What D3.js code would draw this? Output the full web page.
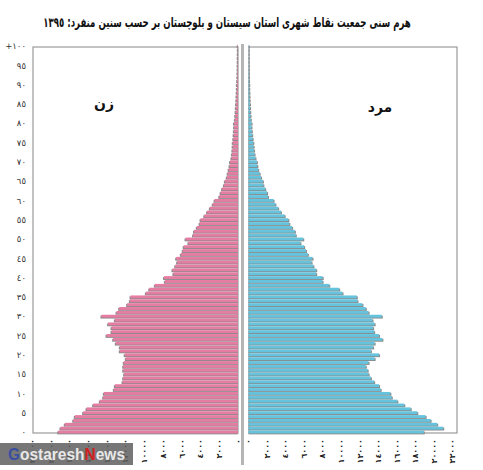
<!DOCTYPE html>
<html><head><meta charset="utf-8">
<script src="https://cdn.jsdelivr.net/npm/d3@7"></script>
<style>body{margin:0;background:#fff;} svg{display:block;}</style>
</head><body>
<script>
const ages = d3.range(0, 101);
const ageTickLabels = ["٠","٥","١٠","١٥","٢٠","٢٥","٣٠","٣٥","٤٠","٤٥","٥٠","٥٥","٦٠","٦٥","٧٠","٧٥","٨٠","٨٥","٩٠","٩٥","+١٠٠"];
const popTicks = [0,2000,4000,6000,8000,10000,12000,14000,16000,18000,20000,22000];
const popTickLabels = ["٠","٢٠٠٠","٤٠٠٠","٦٠٠٠","٨٠٠٠","١٠٠٠٠","١٢٠٠٠","١٤٠٠٠","١٦٠٠٠","١٨٠٠٠","٢٠٠٠٠","٢٢٠٠٠"];
const women = [19200,18960,18500,17600,17430,16540,16180,15470,14760,14400,
  14330,13260,13150,12330,12260,12160,12260,12260,12200,11980,
  12100,12620,12620,13050,13330,14040,13510,13510,13870,13150,
  14580,12970,12690,11840,11550,11480,9840,9480,8880,7810,
  7900,6900,7000,6700,6500,6600,6100,5900,5800,5300,
  5600,4800,4700,4400,4100,4000,3600,3300,3000,2700,
  2500,2000,1850,1700,1500,1400,1200,1100,1000,900,
  850,700,650,600,570,560,500,470,440,420,
  430,330,300,260,230,210,180,160,140,120,
  120,90,70,60,50,45,35,30,25,20,40];
const men = [18900,21000,20350,19640,19100,18200,17500,16800,16050,15450,
  15300,14250,14080,13550,13200,12950,12850,12650,12950,13600,
  14080,13200,13440,13600,14440,14080,13550,13440,13600,13370,
  14370,12950,12650,12290,11750,11680,10140,9780,8710,7990,
  8000,7300,7300,7000,6800,6900,6400,6200,6000,5600,
  5900,5100,5000,4700,4400,4300,3900,3500,3200,2900,
  2700,2100,2000,1800,1600,1550,1350,1200,1050,950,
  900,750,650,600,550,520,450,400,360,320,
  330,250,220,190,170,160,130,110,100,80,
  80,60,50,40,30,30,20,20,15,10,30];
const titleText = "هرم سنی جمعیت نقاط شهری استان سیستان و بلوچستان بر حسب سنین منفرد: ١٣٩٥";
const womenLabel = "زن";
const menLabel = "مرد";

const W = 483, H = 470;
const svg = d3.select("body").append("svg").attr("width", W).attr("height", H);
const font = "DejaVu Sans, sans-serif";

const y = d3.scaleLinear().domain([0, 100]).range([432, 46]);
const xL = d3.scaleLinear().domain([0, 22000]).range([238, 32]);
const xR = d3.scaleLinear().domain([0, 22000]).range([248.5, 452.5]);
const barH = 2.9;

// title (scaled horizontally to the reference width)
const tg = svg.append("g");
const title = tg.append("text").attr("x", 0).attr("y", 0).attr("text-anchor", "middle")
  .attr("font-family", font).attr("font-weight", "bold").attr("font-size", 13.5)
  .attr("fill", "#111").attr("direction", "rtl").text(titleText);
const tw = title.node().getComputedTextLength();
tg.attr("transform", `translate(227,27) scale(${Math.min(1, 368 / tw)},1)`);

// panel frames
svg.append("rect").attr("x", 33).attr("y", 47).attr("width", 205).attr("height", 386)
  .attr("fill", "none").attr("stroke", "#9a9a9a").attr("stroke-width", 1.2);
svg.append("rect").attr("x", 249).attr("y", 47).attr("width", 208).attr("height", 386)
  .attr("fill", "none").attr("stroke", "#9a9a9a").attr("stroke-width", 1.2);
svg.append("line").attr("x1", 242.5).attr("x2", 242.5).attr("y1", 44).attr("y2", 465)
  .attr("stroke", "#b5b5b5").attr("stroke-width", 3);

// women bars
const gW = svg.append("g");
gW.selectAll("rect.sh").data(ages).join("rect").attr("class", "sh")
  .attr("x", d => xL(women[d]) - 1).attr("y", d => y(d) - barH / 2 + 0.9)
  .attr("width", d => xL(0) - xL(women[d]) + 1).attr("height", barH)
  .attr("fill", "#8a8a8a");
gW.selectAll("rect.b").data(ages).join("rect").attr("class", "b")
  .attr("x", d => xL(women[d])).attr("y", d => y(d) - barH / 2)
  .attr("width", d => xL(0) - xL(women[d])).attr("height", barH)
  .attr("fill", "#e57ca2");

// men bars
const gM = svg.append("g");
gM.selectAll("rect.sh").data(ages).join("rect").attr("class", "sh")
  .attr("x", xR(0)).attr("y", d => y(d) - barH / 2 + 0.9)
  .attr("width", d => xR(men[d]) - xR(0) + 1).attr("height", barH)
  .attr("fill", "#8a8a8a");
gM.selectAll("rect.b").data(ages).join("rect").attr("class", "b")
  .attr("x", xR(0)).attr("y", d => y(d) - barH / 2)
  .attr("width", d => xR(men[d]) - xR(0)).attr("height", barH)
  .attr("fill", "#66c3dd");

// y axis labels
const yAxis = d3.axisLeft(y).tickValues(d3.range(0, 101, 5))
  .tickFormat((d, i) => ageTickLabels[i]).tickSize(0).tickPadding(0);
const gy = svg.append("g").attr("transform", "translate(26,0)").call(yAxis);
gy.select(".domain").remove();
gy.selectAll("text").attr("font-family", font).attr("font-size", 8.5)
  .attr("fill", "#333");

// x axes labels (rotated)
function xLabels(scale) {
  const g = svg.append("g");
  g.selectAll("text").data(popTicks).join("text")
    .attr("transform", d => `translate(${scale(d)},439) rotate(-90)`)
    .attr("text-anchor", "end").attr("dy", "0.35em")
    .attr("font-family", font).attr("font-size", 8).attr("font-weight", "bold")
    .attr("fill", "#222")
    .text((d, i) => popTickLabels[i]);
}
xLabels(xL);
xLabels(xR);

// series labels
svg.append("text").attr("x", 104).attr("y", 109).attr("text-anchor", "middle")
  .attr("font-family", font).attr("font-weight", "bold").attr("font-size", 14)
  .attr("fill", "#111").text(womenLabel);
svg.append("text").attr("x", 380).attr("y", 112).attr("text-anchor", "middle")
  .attr("font-family", font).attr("font-weight", "bold").attr("font-size", 14)
  .attr("fill", "#111").text(menLabel);

// watermark
svg.append("rect").attr("x", 0).attr("y", 443).attr("width", 133).attr("height", 22)
  .attr("fill", "#5f5f5f").attr("opacity", 0.85);
svg.append("text").attr("x", 8).attr("y", 460)
  .attr("font-family", "Liberation Sans, Arial, sans-serif").attr("font-weight", "bold")
  .attr("font-size", 16).attr("fill", "#e8e8e8")
  .attr("textLength", 117).attr("lengthAdjust", "spacingAndGlyphs")
  .call(t => {
    t.append("tspan").attr("fill", "#3a4fa0").text("G");
    t.append("tspan").text("ostaresh");
    t.append("tspan").attr("fill", "#d02020").text("N");
    t.append("tspan").text("ews");
  });
</script>
</body></html>
